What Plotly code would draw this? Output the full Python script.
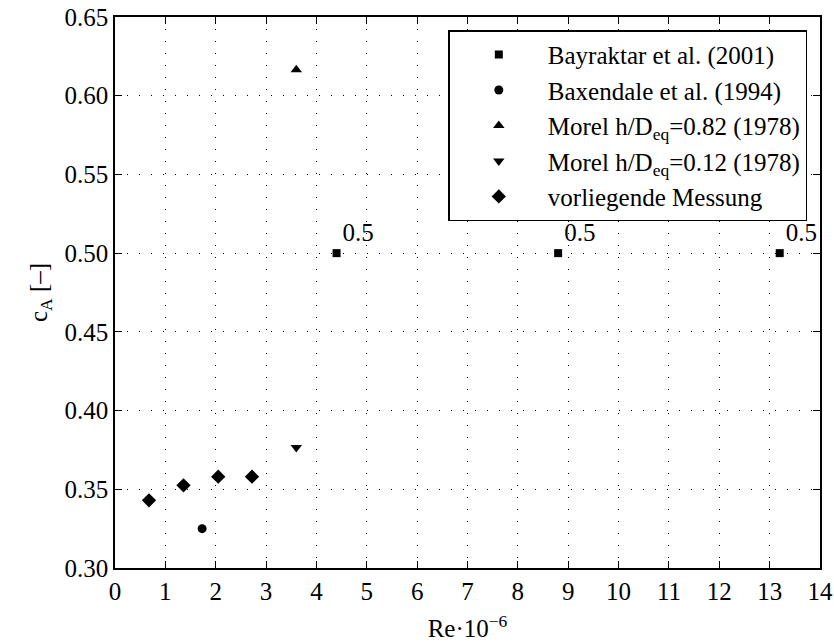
import plotly.graph_objects as go

# Data
bay_x = [4.4, 8.8, 13.2]
bay_y = [0.5, 0.5, 0.5]
bay_labels = ["0.5", "0.5", "0.5"]

bax_x = [1.73]
bax_y = [0.325]

morel82_x = [3.6]
morel82_y = [0.6165]

morel12_x = [3.6]
morel12_y = [0.3765]

mess_x = [0.675, 1.36, 2.05, 2.72]
mess_y = [0.343, 0.3525, 0.358, 0.358]

x_ticks = list(range(0, 15))
y_ticks = [0.30, 0.35, 0.40, 0.45, 0.50, 0.55, 0.60, 0.65]

FONT = "Liberation Serif"
FS = 25

fig = go.Figure()
fig.add_trace(go.Scatter(x=bay_x, y=bay_y, mode="markers+text", text=bay_labels,
                         textposition="top right", textfont=dict(family=FONT, size=FS, color="black"),
                         marker=dict(symbol="square", size=8, color="black"),
                         cliponaxis=False,
                         name="Bayraktar et al. (2001)"))
fig.add_trace(go.Scatter(x=bax_x, y=bax_y, mode="markers",
                         marker=dict(symbol="circle", size=9, color="black"),
                         name="Baxendale et al. (1994)"))
fig.add_trace(go.Scatter(x=morel82_x, y=morel82_y, mode="markers",
                         marker=dict(symbol="triangle-up", size=10, color="black"),
                         name="Morel h/D<sub>eq</sub>=0.82 (1978)"))
fig.add_trace(go.Scatter(x=morel12_x, y=morel12_y, mode="markers",
                         marker=dict(symbol="triangle-down", size=10, color="black"),
                         name="Morel h/D<sub>eq</sub>=0.12 (1978)"))
fig.add_trace(go.Scatter(x=mess_x, y=mess_y, mode="markers",
                         marker=dict(symbol="diamond", size=11, color="black"),
                         name="vorliegende Messung"))

axis_common = dict(
    showline=True, linecolor="black", linewidth=1.5, mirror="ticks",
    ticks="inside", ticklen=7, tickcolor="black", tickwidth=1,
    showgrid=True, gridcolor="black", gridwidth=1, griddash="1px,11px",
    zeroline=False, tickfont=dict(family=FONT, size=FS, color="black"),
    automargin=False,
)

fig.update_xaxes(range=[0, 14], tickvals=x_ticks,
                 title=dict(text="Re·10<sup>−6</sup>", font=dict(family=FONT, size=FS, color="black"), standoff=16),
                 **axis_common)
fig.update_yaxes(range=[0.30, 0.65], tickvals=y_ticks, tickformat=".2f",
                 title=dict(text="c<sub>A</sub> [–]", font=dict(family=FONT, size=FS, color="black"), standoff=10),
                 **axis_common)

fig.update_layout(
    width=834, height=644,
    margin=dict(l=115, r=14, t=17, b=76, autoexpand=False),
    plot_bgcolor="white", paper_bgcolor="white",
    font=dict(family=FONT, size=FS, color="black"),
    showlegend=True,
    legend=dict(x=0.982, y=0.976, xanchor="right", yanchor="top",
                bgcolor="white", bordercolor="black", borderwidth=1.5,
                font=dict(family=FONT, size=FS, color="black"),
                itemwidth=88),
)

fig.write_html("out.html")
